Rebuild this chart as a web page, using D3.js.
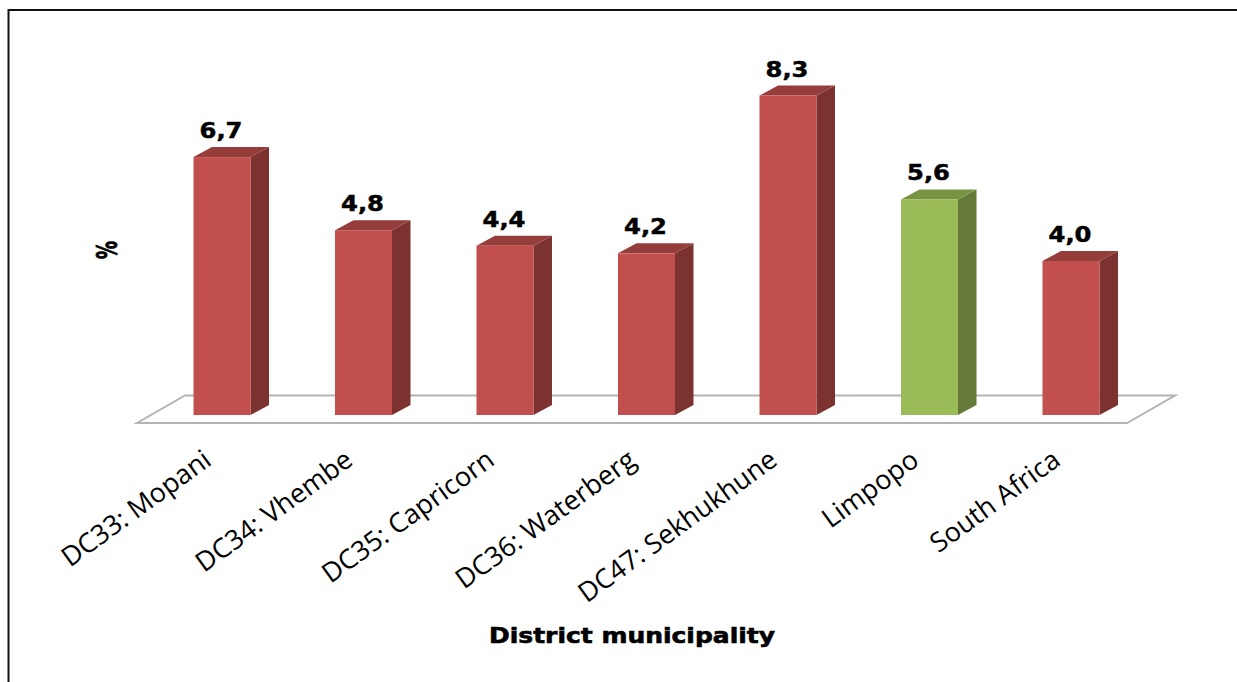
<!DOCTYPE html>
<html><head><meta charset="utf-8">
<script src="https://cdn.jsdelivr.net/npm/d3@7"></script>
<style>html,body{margin:0;padding:0;background:#fff;overflow:hidden}svg{display:block}</style>
</head><body><div id="chart"></div>
<script>
const categories = ["DC33: Mopani","DC34: Vhembe","DC35: Capricorn","DC36: Waterberg","DC47: Sekhukhune","Limpopo","South Africa"];
const labels = ["6,7","4,8","4,4","4,2","8,3","5,6","4,0"];
const values = [6.7,4.8,4.4,4.2,8.3,5.6,4.0];
const groups = ["district","district","district","district","district","province","national"];
const W=1237,H=682;
const svg=d3.select("#chart").append("svg").attr("width",W).attr("height",H);
const defs=svg.append("defs");
defs.append("filter").attr("id","soft").append("feGaussianBlur").attr("stdDeviation",0.45);
const x=d3.scaleBand().domain(categories).range([151.25,1141.75]).paddingInner(0.6).paddingOuter(0.3);
const y=d3.scaleLinear().domain([0,8.3]).range([415,95.5]);
const barW=57,dx=18.5,dy=10;
const bw=x.bandwidth();
const cx=d=>x(d)+bw/2;
const palette=d3.scaleOrdinal().domain(["district","province","national"]).range(["red","green","red"]);
const faces={red:{front:"#c0504d",side:"#7c312f",top:"#953e3b"},green:{front:"#9bbb59",side:"#657a39",top:"#7a9443"}};

// frame
svg.append("path").attr("d",`M8.5 ${H}V10H${W}`).attr("fill","none").attr("stroke","#111").attr("stroke-width",2);

// floor
svg.append("path")
  .attr("d","M137 423L185 395.5H1175L1127 423Z")
  .attr("fill","#fff").attr("stroke","#b3b3b3").attr("stroke-width",2);

// bars
const data=categories.map((c,i)=>({c,v:values[i],l:labels[i],g:palette(groups[i])}));
const bars=svg.append("g").attr("filter","url(#soft)").selectAll("g").data(data).join("g");
bars.append("path").attr("fill",d=>faces[d.g].side).attr("d",d=>{
  const r=cx(d.c)+barW/2,t=y(d.v),b=y(0);
  return `M${r} ${t}L${r+dx} ${t-dy}V${b-dy}L${r} ${b}Z`;});
bars.append("path").attr("fill",d=>faces[d.g].top).attr("d",d=>{
  const l=cx(d.c)-barW/2,r=l+barW,t=y(d.v);
  return `M${l} ${t}L${l+dx} ${t-dy}H${r+dx}L${r} ${t}Z`;});
bars.append("rect").attr("fill",d=>faces[d.g].front)
  .attr("x",d=>cx(d.c)-barW/2).attr("width",barW)
  .attr("y",d=>y(d.v)).attr("height",d=>y(0)-y(d.v));

// value labels
svg.append("g").selectAll("text").data(data).join("text")
  .attr("x",d=>cx(d.c)-1).attr("y",d=>y(d.v)-19)
  .attr("text-anchor","middle")
  .attr("font-family","DejaVu Sans").attr("font-weight","bold").attr("font-size",22)
  .attr("textLength",43).attr("lengthAdjust","spacingAndGlyphs")
  .attr("stroke","#000").attr("stroke-width",0.5)
  .attr("fill","#000").text(d=>d.l);

// category axis
const axis=svg.append("g").attr("transform","translate(-10,457)")
  .call(d3.axisBottom(x).tickSize(0).tickPadding(0));
axis.select(".domain").remove();
axis.selectAll("text")
  .attr("font-family","Open Sans").attr("font-size",27).attr("fill","#000")
  .attr("text-anchor","end")
  .attr("transform","rotate(-36)")
  .attr("x",-3).attr("y",6).attr("dy",0);

// axis titles
svg.append("text").attr("x",632).attr("y",643).attr("text-anchor","middle")
  .attr("font-family","DejaVu Sans").attr("font-weight","bold").attr("font-size",21)
  .attr("stroke","#000").attr("stroke-width",0.6)
  .attr("textLength",286).attr("lengthAdjust","spacingAndGlyphs").text("District municipality");
svg.append("text").attr("transform","translate(117,250) rotate(-90)").attr("text-anchor","middle")
  .attr("font-family","DejaVu Sans").attr("font-weight","bold").attr("font-size",29)
  .attr("stroke","#000").attr("stroke-width",0.9)
  .attr("textLength",18).attr("lengthAdjust","spacingAndGlyphs").text("%");
</script></body></html>
